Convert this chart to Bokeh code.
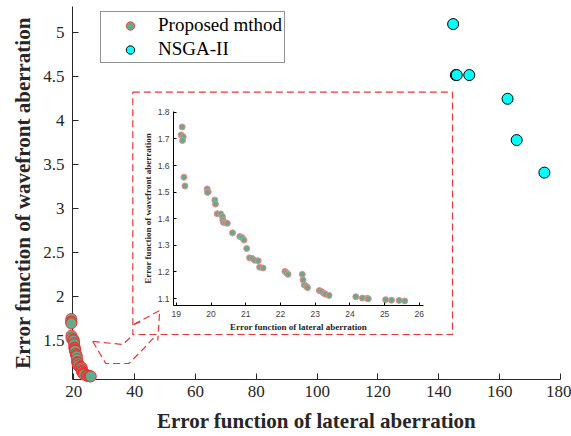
from bokeh.plotting import figure
from bokeh.models import Range1d, FixedTicker, NumeralTickFormatter, Legend, LegendItem
from bokeh.layouts import column
from bokeh.embed import file_html
from bokeh.resources import INLINE

# ---------------- data ----------------
proposed_x = [19.17, 19.14, 19.20, 19.18, 19.22, 19.25, 19.89, 19.92, 19.90, 20.11,
              20.13, 20.18, 20.28, 20.33, 20.34, 20.36, 20.42, 20.47, 20.62, 20.83,
              20.90, 20.95, 21.03, 21.11, 21.19, 21.26, 21.36, 21.40, 21.50, 22.13,
              22.17, 22.22, 22.63, 22.65, 22.69, 22.75, 22.78, 23.12, 23.19, 23.25,
              23.30, 23.40, 24.17, 24.36, 24.50, 24.53, 25.03, 25.20, 25.42, 25.58]
proposed_y = [1.745, 1.715, 1.708, 1.694, 1.556, 1.523, 1.512, 1.501, 1.499, 1.470,
              1.455, 1.419, 1.418, 1.408, 1.395, 1.386, 1.385, 1.383, 1.347, 1.333,
              1.329, 1.320, 1.288, 1.253, 1.251, 1.244, 1.242, 1.218, 1.215, 1.202,
              1.197, 1.191, 1.191, 1.170, 1.151, 1.146, 1.141, 1.130, 1.126, 1.120,
              1.116, 1.112, 1.107, 1.102, 1.101, 1.099, 1.096, 1.094, 1.093, 1.091]

nsga_x = [144.7, 145.6, 145.9, 150.0, 162.6, 165.6, 174.7]
nsga_y = [5.10, 4.52, 4.52, 4.52, 4.25, 3.78, 3.41]

x_ticks = [20, 40, 60, 80, 100, 120, 140, 160, 180]
y_ticks = [1.5, 2, 2.5, 3, 3.5, 4, 4.5, 5]
inset_x_ticks = [19, 20, 21, 22, 23, 24, 25, 26]
inset_y_ticks = [1.1, 1.2, 1.3, 1.4, 1.5, 1.6, 1.7, 1.8]

series_names = ["Proposed mthod", "NSGA-II"]
x_label = "Error function of lateral aberration"
y_label = "Error function of wavefront aberration"

# ---------------- styles ----------------
GREEN = "#62ab8d"
RED = "#ff2020"
CYAN = "#00ffff"
AXC = "#262626"
SERIF = "Liberation Serif"
SANS = "Liberation Sans"
DASH_RED = "#e8353a"

# ---------------- main figure ----------------
p = figure(width=571, height=436, output_backend="svg", toolbar_location=None,
           x_range=Range1d(19.57, 180), y_range=Range1d(1.056, 5.30),
           min_border_left=72, min_border_right=11, min_border_top=6, min_border_bottom=57)
p.outline_line_color = None
p.xgrid.visible = False
p.ygrid.visible = False
p.background_fill_color = "white"
p.border_fill_color = "white"

for ax in (p.xaxis[0], p.yaxis[0]):
    ax.axis_line_color = AXC
    ax.major_tick_line_color = AXC
    ax.major_tick_in = 6
    ax.major_tick_out = 0
    ax.minor_tick_line_color = None
    ax.major_label_text_font = SERIF
    ax.major_label_text_font_size = "17px"
    ax.major_label_text_color = AXC
    ax.axis_label_text_font = SERIF
    ax.axis_label_text_font_style = "bold"
    ax.axis_label_text_font_size = "21px"
    ax.axis_label_text_color = AXC

p.xaxis.ticker = FixedTicker(ticks=x_ticks)
p.yaxis.ticker = FixedTicker(ticks=y_ticks)
p.yaxis.formatter = NumeralTickFormatter(format="0.[0]")
p.xaxis.axis_label = x_label
p.yaxis.axis_label = y_label
p.xaxis.major_label_standoff = 6
p.yaxis.major_label_standoff = 8
p.xaxis.axis_label_standoff = 9
p.yaxis.axis_label_standoff = 5

# dashed zoom rectangle and the magnifier decoration
p.quad(left=[39.4], right=[144.5], bottom=[1.568], top=[4.325], fill_color=None,
       line_color=DASH_RED, line_dash="7 4", line_width=1.2)
deco = [
    ([26.24, 36.10, 39.71], [1.489, 1.455, 1.568]),
    ([26.24, 30.51, 38.07, 43.00, 46.94], [1.489, 1.238, 1.238, 1.409, 1.557]),
    ([39.71, 48.25, 47.60], [1.682, 1.842, 1.500]),
    ([39.71, 43.00], [1.682, 1.728]),
]
for xs, ys in deco:
    p.line(xs, ys, line_color=DASH_RED, line_dash="7 4", line_width=1.2)

r_prop = p.scatter(proposed_x, proposed_y, size=11, fill_color=GREEN,
                   line_color=RED, line_width=0.8, level="overlay")
r_nsga = p.scatter(nsga_x, nsga_y, size=11, fill_color=CYAN,
                   line_color="black", line_width=1, level="overlay")

legend = Legend(items=[LegendItem(label=series_names[0], renderers=[r_prop]),
                       LegendItem(label=series_names[1], renderers=[r_nsga])],
                location=(28, 316), orientation="vertical")
legend.label_text_font = SERIF
legend.label_text_font_size = "19px"
legend.label_text_color = "black"
legend.border_line_color = AXC
legend.border_line_width = 1
legend.background_fill_color = "white"
legend.padding = 2
legend.margin = 0
legend.spacing = 2
legend.glyph_width = 54
legend.glyph_height = 21
legend.label_height = 21
legend.label_standoff = 1
p.add_layout(legend)

# ---------------- inset figure ----------------
# (the column aligns frame borders with the main plot: left 72, right 11)
inset = figure(width=333, height=234, output_backend="svg", toolbar_location=None,
               x_range=Range1d(18.92, 26.12), y_range=Range1d(1.074, 1.803),
               min_border_left=33, min_border_right=7, min_border_top=11, min_border_bottom=28)
inset.outline_line_color = None
inset.xgrid.visible = False
inset.ygrid.visible = False
inset.background_fill_alpha = 0
inset.border_fill_alpha = 0
for ax in (inset.xaxis[0], inset.yaxis[0]):
    ax.axis_line_color = "black"
    ax.major_tick_line_color = "black"
    ax.major_tick_in = 3
    ax.major_tick_out = 0
    ax.minor_tick_line_color = None
    ax.major_label_text_font = SANS
    ax.major_label_text_font_size = "8.5px"
    ax.major_label_text_color = "#404040"
    ax.axis_label_text_font = SERIF
    ax.axis_label_text_font_style = "bold"
    ax.axis_label_text_font_size = "9px"
    ax.axis_label_text_color = "#262626"
inset.xaxis.ticker = FixedTicker(ticks=inset_x_ticks)
inset.yaxis.ticker = FixedTicker(ticks=inset_y_ticks)
inset.yaxis.formatter = NumeralTickFormatter(format="0.0")
inset.xaxis.axis_label = x_label
inset.yaxis.axis_label = y_label
inset.xaxis.major_label_standoff = 5
inset.yaxis.major_label_standoff = 4
inset.xaxis.axis_label_standoff = 2
inset.yaxis.axis_label_standoff = 2
inset.scatter(proposed_x, proposed_y, size=6, fill_color=GREEN,
              line_color="#f08a8a", line_width=1)
inset.styles = {"position": "absolute", "left": "101px", "top": "100px"}

layout = column(p, inset)
open("out.html", "w").write(file_html(layout, INLINE))
